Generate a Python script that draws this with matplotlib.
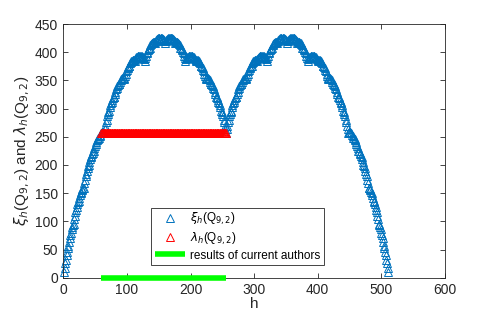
import numpy as np
import matplotlib
matplotlib.use("Agg")
import matplotlib.pyplot as plt

# ---- data ----
# xi_h(Q_{9,2}) for h = 1 .. 256
XI_LEFT = [
    10, 18, 26, 32, 40, 46, 52, 56, 64, 70, 76, 80, 86, 90, 94, 96,
    104, 110, 116, 120, 126, 130, 134, 136, 142, 146, 150, 152, 156, 158, 160, 160,
    168, 174, 180, 184, 190, 194, 198, 200, 206, 210, 214, 216, 220, 222, 224, 224,
    230, 234, 238, 240, 244, 246, 248, 248, 252, 254, 256, 256, 258, 258, 258, 256,
    264, 270, 276, 280, 286, 290, 294, 296, 302, 306, 310, 312, 316, 318, 320, 320,
    326, 330, 334, 336, 340, 342, 344, 344, 348, 350, 352, 352, 354, 354, 354, 352,
    358, 362, 366, 368, 372, 374, 376, 376, 380, 382, 384, 384, 386, 386, 386, 384,
    388, 390, 392, 392, 394, 394, 394, 392, 394, 394, 394, 392, 392, 390, 388, 384,
    390, 394, 398, 400, 404, 406, 408, 408, 412, 414, 416, 416, 418, 418, 418, 416,
    420, 422, 424, 424, 426, 426, 426, 424, 426, 426, 426, 424, 424, 422, 420, 416,
    420, 422, 424, 424, 426, 426, 426, 424, 426, 426, 426, 424, 424, 422, 420, 416,
    418, 418, 418, 416, 416, 414, 412, 408, 408, 406, 404, 400, 398, 394, 390, 384,
    388, 390, 392, 392, 394, 394, 394, 392, 394, 394, 394, 392, 392, 390, 388, 384,
    386, 386, 386, 384, 384, 382, 380, 376, 376, 374, 372, 368, 366, 362, 358, 352,
    354, 354, 354, 352, 352, 350, 348, 344, 344, 342, 340, 336, 334, 330, 326, 320,
    320, 318, 316, 312, 310, 306, 302, 296, 294, 290, 286, 280, 276, 270, 264, 256,
]
# xi_h(Q_{9,2}) for h = 257 .. 511
XI_RIGHT = [
    264, 270, 276, 280, 286, 290, 294, 296, 302, 306, 310, 312, 316, 318, 320,
    320, 326, 330, 334, 336, 340, 342, 344, 344, 348, 350, 352, 352, 354, 354, 354,
    352, 358, 362, 366, 368, 372, 374, 376, 376, 380, 382, 384, 384, 386, 386, 386,
    384, 388, 390, 392, 392, 394, 394, 394, 392, 394, 394, 394, 392, 392, 390, 388,
    384, 390, 394, 398, 400, 404, 406, 408, 408, 412, 414, 416, 416, 418, 418, 418,
    416, 420, 422, 424, 424, 426, 426, 426, 424, 426, 426, 426, 424, 424, 422, 420,
    416, 420, 422, 424, 424, 426, 426, 426, 424, 426, 426, 426, 424, 424, 422, 420,
    416, 418, 418, 418, 416, 416, 414, 412, 408, 408, 406, 404, 400, 398, 394, 390,
    384, 388, 390, 392, 392, 394, 394, 394, 392, 394, 394, 394, 392, 392, 390, 388,
    384, 386, 386, 386, 384, 384, 382, 380, 376, 376, 374, 372, 368, 366, 362, 358,
    352, 354, 354, 354, 352, 352, 350, 348, 344, 344, 342, 340, 336, 334, 330, 326,
    320, 320, 318, 316, 312, 310, 306, 302, 296, 294, 290, 286, 280, 276, 270, 264,
    256, 258, 258, 258, 256, 256, 254, 252, 248, 248, 246, 244, 240, 238, 234, 230,
    224, 224, 222, 220, 216, 214, 210, 206, 200, 198, 194, 190, 184, 180, 174, 168,
    160, 160, 158, 156, 152, 150, 146, 142, 136, 134, 130, 126, 120, 116, 110, 104,
    96, 94, 90, 86, 80, 76, 70, 64, 56, 52, 46, 40, 32, 26, 18, 10,
]
H_START, H_END = 1, 511
LAMBDA_VALUE = 256          # lambda_h(Q_{9,2}) in the covered range
RANGE_START, RANGE_END = 60, 256

XTICKS = [0, 100, 200, 300, 400, 500, 600]
YTICKS = [0, 50, 100, 150, 200, 250, 300, 350, 400, 450]

# ---- style ----
BLUE = '#0072BD'
RED = '#FF0000'
GREEN = '#00FF00'
AXCOL = '#262626'

plt.rcParams['font.family'] = ['Liberation Sans', 'DejaVu Sans']
plt.rcParams['mathtext.fontset'] = 'dejavusans'

fig = plt.figure(figsize=(4.91, 3.16), dpi=100)
ax = fig.add_axes([0.129, 0.121, 0.777, 0.803])

h_all = np.arange(H_START, H_END + 1)
xi_all = np.array(XI_LEFT + XI_RIGHT)
h_range = np.arange(RANGE_START, RANGE_END + 1)
lam = np.full(len(h_range), LAMBDA_VALUE)

ax.plot(h_all, xi_all, linestyle='none', marker='^', ms=6, mfc='none',
        mec=BLUE, mew=0.7, label=r'$\xi_h$(Q$_{9,2}$)', clip_on=False)
ax.plot(h_range, lam, linestyle='none', marker='^', ms=6, mfc='none',
        mec=RED, mew=0.7, label=r'$\lambda_h$(Q$_{9,2}$)')
ax.plot([RANGE_START, RANGE_END], [0, 0], color=GREEN, lw=4,
        solid_capstyle='butt', label='results of current authors',
        clip_on=False, zorder=5)

ax.set_xlim(0, 600)
ax.set_ylim(0, 450)
ax.set_xticks(XTICKS)
ax.set_yticks(YTICKS)
ax.tick_params(direction='in', top=True, right=True, length=3.5, width=0.6,
               labelsize=10, colors=AXCOL, pad=4)
for sp in ax.spines.values():
    sp.set_color(AXCOL)
    sp.set_linewidth(0.6)

ax.set_xlabel('h', fontsize=11, color=AXCOL, labelpad=0)
ax.set_ylabel(r'$\xi_h$(Q$_{9,2}$) and $\lambda_h$(Q$_{9,2}$)', fontsize=11,
              color=AXCOL, labelpad=2)

leg = ax.legend(loc='lower left', bbox_to_anchor=(0.23, 0.05), borderaxespad=0,
                fontsize=8.5, frameon=True, fancybox=False, framealpha=1,
                edgecolor=AXCOL, handlelength=2.6, handletextpad=0.4,
                borderpad=0.3, labelspacing=0.25)
leg.get_frame().set_linewidth(0.6)

fig.savefig('out.png', dpi=100)
